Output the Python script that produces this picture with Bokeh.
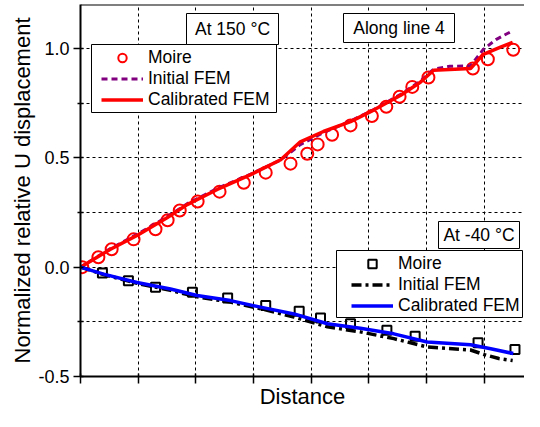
from bokeh.plotting import figure
from bokeh.models import (FixedTicker, Legend, LegendItem, Label, BoxAnnotation,
                          Span, Range1d, CustomLabelingPolicy)
from bokeh.embed import file_html
from bokeh.resources import INLINE

# ---------------- data ----------------
# At 150 C
x150_moire = [0.03, 0.31, 0.54, 0.92, 1.30, 1.51, 1.72, 2.03, 2.41, 2.83, 3.21, 3.64,
              3.93, 4.11, 4.36, 4.68, 5.05, 5.30, 5.53, 5.75, 6.03, 6.80, 7.06, 7.50]
y150_moire = [0.00, 0.045, 0.082, 0.127, 0.173, 0.214, 0.259, 0.300, 0.345, 0.386, 0.432, 0.473,
              0.518, 0.561, 0.605, 0.648, 0.691, 0.733, 0.779, 0.824, 0.867, 0.908, 0.950, 0.994]

x150_init = [0.0, 0.52, 0.98, 1.50, 1.85, 2.37, 2.95, 3.47, 3.81, 4.21, 4.68, 5.08,
             5.55, 5.89, 6.12, 6.40, 6.76, 6.98, 7.20, 7.47]
y150_init = [0.0, 0.085, 0.150, 0.230, 0.290, 0.360, 0.425, 0.490, 0.560, 0.615, 0.668, 0.720,
             0.790, 0.850, 0.905, 0.918, 0.920, 0.995, 1.040, 1.078]

x150_cal = [0.0, 0.52, 0.98, 1.50, 1.85, 2.37, 2.95, 3.47, 3.81, 4.21, 4.68, 5.08,
            5.55, 5.89, 6.12, 6.76, 6.98, 7.28, 7.49]
y150_cal = [0.0, 0.082, 0.145, 0.226, 0.286, 0.355, 0.423, 0.491, 0.573, 0.620, 0.665, 0.718,
            0.786, 0.845, 0.900, 0.908, 0.973, 1.006, 1.027]

# At -40 C
xm40_moire = [0.38, 0.83, 1.30, 1.94, 2.55, 3.21, 3.79, 4.16, 4.68, 5.31, 5.80, 6.89, 7.53]
ym40_moire = [-0.027, -0.062, -0.092, -0.115, -0.141, -0.175, -0.202, -0.233, -0.259,
              -0.289, -0.316, -0.346, -0.377]

xm40_init = [0.0, 0.40, 0.98, 1.56, 2.02, 2.60, 3.12, 3.70, 4.28, 4.85, 5.43, 6.01,
             6.76, 7.00, 7.25, 7.49]
ym40_init = [0.0, -0.034, -0.074, -0.106, -0.136, -0.160, -0.190, -0.228, -0.273, -0.296,
             -0.327, -0.365, -0.379, -0.400, -0.418, -0.427]

xm40_cal = [0.0, 0.40, 0.98, 1.56, 2.02, 2.60, 3.12, 3.70, 4.28, 4.85, 5.43, 6.01,
            6.76, 7.11, 7.50]
ym40_cal = [0.0, -0.032, -0.070, -0.100, -0.130, -0.153, -0.183, -0.214, -0.259, -0.279,
            -0.305, -0.342, -0.355, -0.373, -0.395]

x_ticks = [0, 1, 2, 3, 4, 5, 6, 7]
y_ticks = [-0.5, 0.0, 0.5, 1.0]
y_tick_labels = ["-0.5", "0.0", "0.5", "1.0"]
y_minor = [-0.25, 0.25, 0.75]
y_grid = [-0.5, -0.25, 0.0, 0.25, 0.5, 0.75, 1.0]

FONT = "Liberation Sans"

X_END = 7.695
Y_END = 1.2006

p = figure(width=524, height=411, output_backend="svg", toolbar_location=None,
           x_range=Range1d(0, X_END), y_range=Range1d(-0.5, Y_END),
           min_border_left=80, min_border_right=0, min_border_top=4, min_border_bottom=34,
           outline_line_color=None, background_fill_color="white",
           border_fill_color="white")

# axes
p.xaxis.ticker = FixedTicker(ticks=x_ticks, minor_ticks=[])
p.xaxis.major_label_text_font_size = "0px"
p.xaxis.major_label_standoff = 0
p.xaxis.major_label_policy = CustomLabelingPolicy(code="""
try {
  const n = indices.size
  for (let i = 0; i < n; i++) { indices.set(i, false) }
} catch (e) {}
return indices
""")
p.xaxis.axis_label = "Distance"
p.xaxis.axis_label_standoff = 0
p.yaxis.ticker = FixedTicker(ticks=y_ticks, minor_ticks=y_minor)
p.yaxis.major_label_overrides = {t: l for t, l in zip(y_ticks, y_tick_labels)}
p.yaxis.axis_label = "Normalized relative U displacement"
p.yaxis.axis_label_standoff = 0
for ax in (p.xaxis[0], p.yaxis[0]):
    ax.axis_line_color = "black"
    ax.axis_line_width = 2
    ax.major_tick_line_color = "black"
    ax.major_tick_line_width = 1.5
    ax.major_tick_out = 7
    ax.major_tick_in = 3
    ax.minor_tick_line_color = "black"
    ax.minor_tick_line_width = 1.5
    ax.minor_tick_out = 3
    ax.minor_tick_in = 3
    ax.major_label_text_font = FONT
    ax.major_label_text_color = "black"
    ax.axis_label_text_font = FONT
    ax.axis_label_text_font_style = "normal"
    ax.axis_label_text_font_size = "22px"
    ax.axis_label_text_color = "black"
p.yaxis.major_label_text_font_size = "18px"
p.yaxis.major_label_standoff = 4

# grid
p.xgrid.ticker = FixedTicker(ticks=x_ticks)
p.ygrid.ticker = FixedTicker(ticks=y_grid)
for g in (p.xgrid[0], p.ygrid[0]):
    g.grid_line_color = "black"
    g.grid_line_dash = "3 3"
    g.grid_line_width = 1

# top border
p.add_layout(Span(location=Y_END, dimension="width", line_color="black", line_width=2))

# glyphs
m150 = p.scatter(x150_moire, y150_moire, marker="circle", size=12, line_color="#ff0000",
                 line_width=2, fill_color=None)
i150 = p.line(x150_init, y150_init, line_color="#800080", line_width=3, line_dash="6 4")
c150 = p.line(x150_cal, y150_cal, line_color="#ff0000", line_width=3.5)

mm40 = p.scatter(xm40_moire, ym40_moire, marker="square", size=9, line_color="black",
                 line_width=2, fill_color=None)
im40 = p.line(xm40_init, ym40_init, line_color="black", line_width=3.5, line_dash="10 4 3 4")
cm40 = p.line(xm40_cal, ym40_cal, line_color="#0000ff", line_width=3.5)

# boxes (screen coords relative to the frame's bottom-left)
def box(l, r, b, t):
    p.add_layout(BoxAnnotation(left=l, right=r, bottom=b, top=t,
                               left_units="screen", right_units="screen",
                               bottom_units="screen", top_units="screen",
                               fill_color="white", fill_alpha=1.0,
                               line_color="black", line_width=1, line_alpha=1.0))

box(11, 196, 264, 332)     # upper legend
box(256, 442, 59, 126)     # lower legend
box(106, 198, 332, 363)    # At 150
box(263, 374, 334, 363)    # Along line 4
box(358, 439, 128, 155)    # At -40

def label(x, y, txt):
    p.add_layout(Label(x=x, y=y, x_units="screen", y_units="screen", text=txt,
                       text_align="center", text_baseline="middle",
                       text_font=FONT, text_font_size="17.5px", text_color="black"))

label(152, 347.5, "At 150 °C")
label(318.5, 348.5, "Along line 4")
label(398.5, 141.5, "At -40 °C")

def legend(items, loc):
    lg = Legend(items=items, location=loc, border_line_color=None,
                background_fill_alpha=0, padding=0, margin=0, spacing=0,
                label_height=21, glyph_height=21, glyph_width=42, label_standoff=5,
                label_text_font=FONT, label_text_font_size="17.5px",
                label_text_color="black")
    p.add_layout(lg)

legend([LegendItem(label="Moire", renderers=[m150]),
        LegendItem(label="Initial FEM", renderers=[i150]),
        LegendItem(label="Calibrated FEM", renderers=[c150])], (21, 266))
legend([LegendItem(label="Moire", renderers=[mm40]),
        LegendItem(label="Initial FEM", renderers=[im40]),
        LegendItem(label="Calibrated FEM", renderers=[cm40])], (271, 60))

open("out.html", "w").write(file_html(p, INLINE))
